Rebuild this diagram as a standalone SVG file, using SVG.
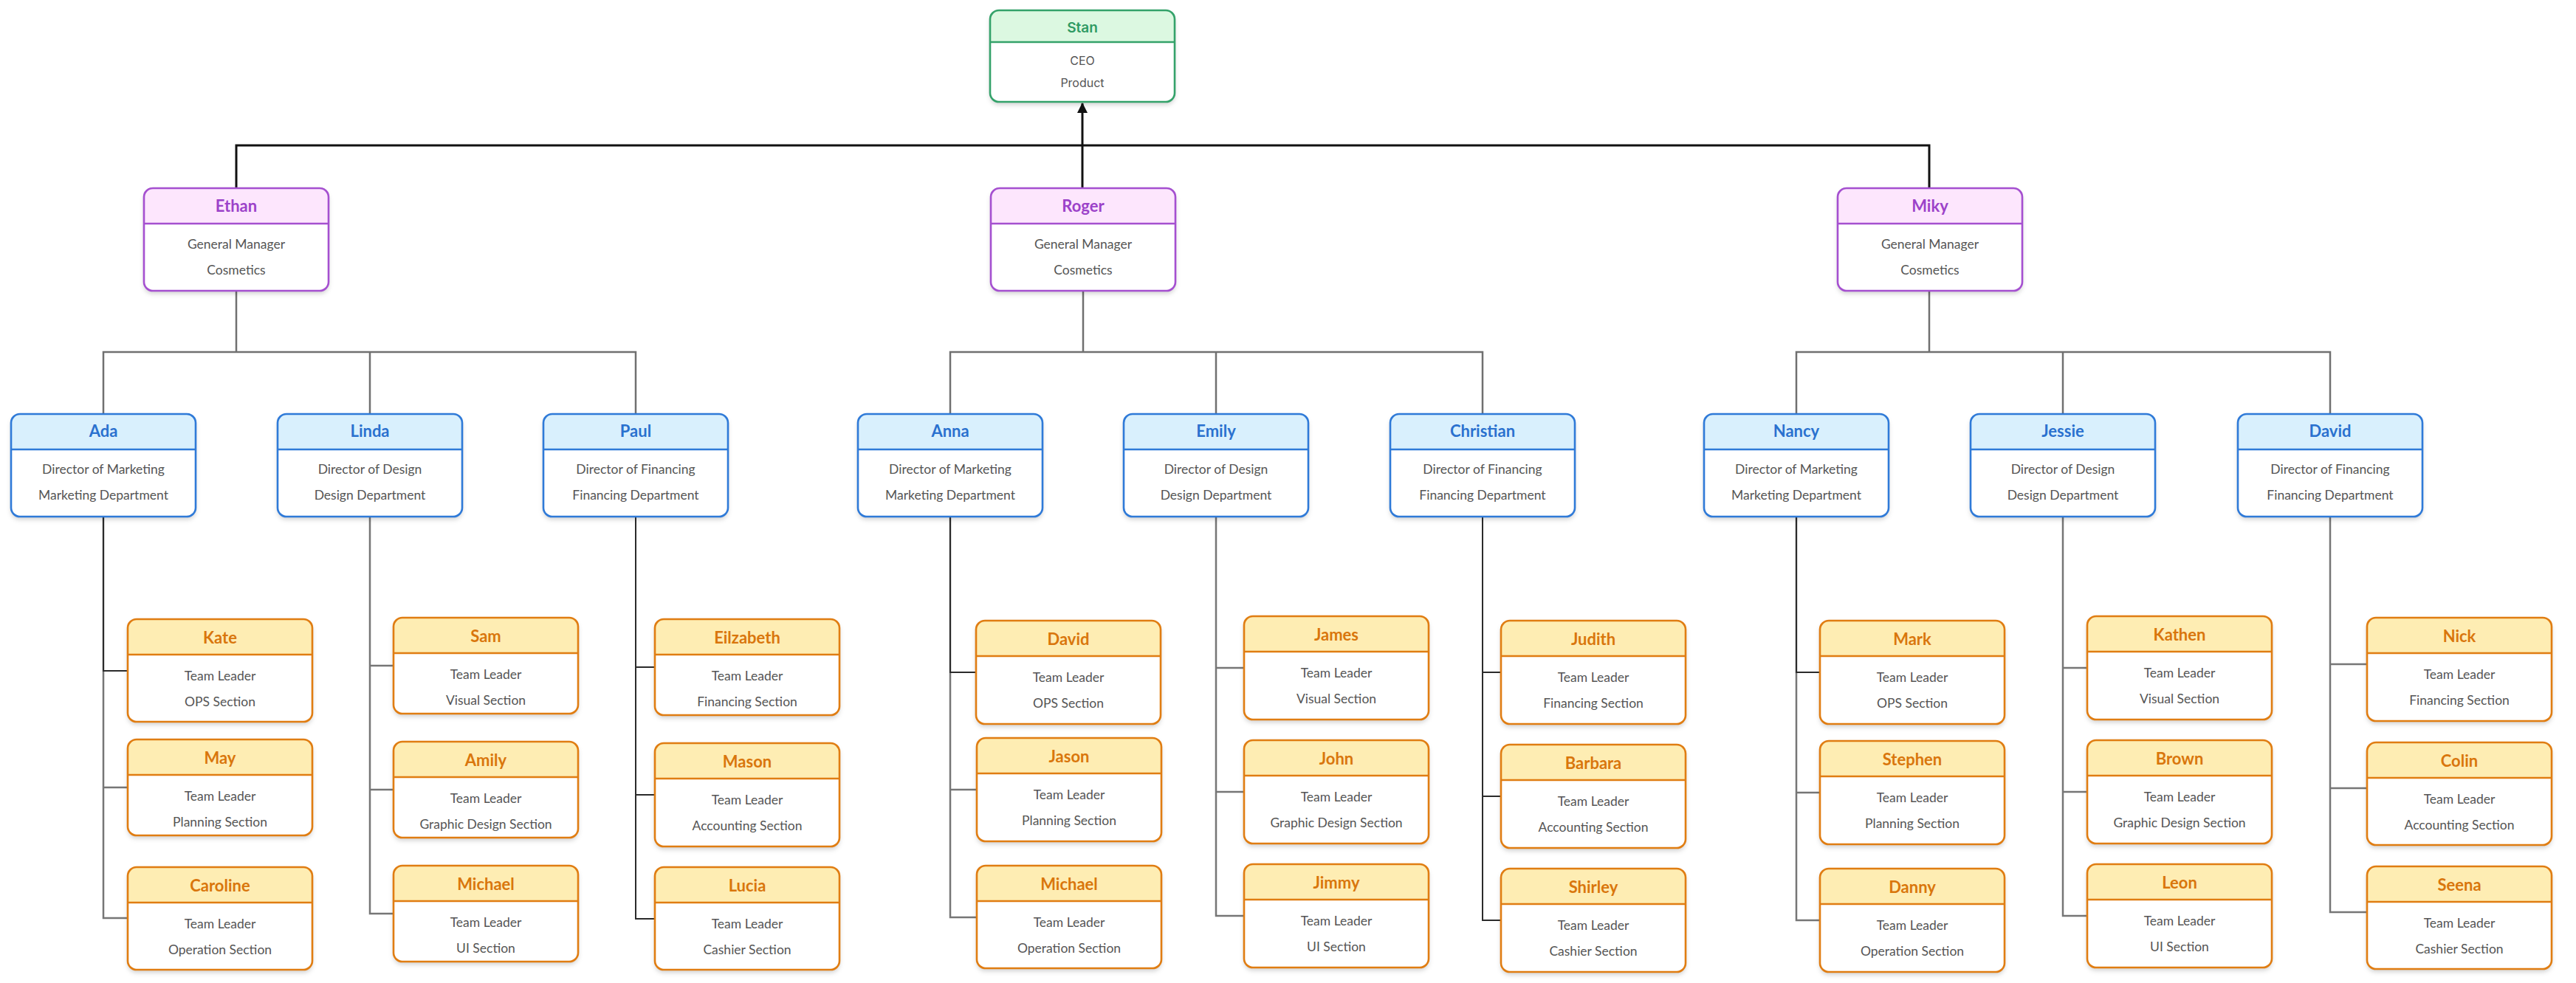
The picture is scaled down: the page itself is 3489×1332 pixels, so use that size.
<svg xmlns="http://www.w3.org/2000/svg" xmlns:xlink="http://www.w3.org/1999/xlink" width="3489" height="1332" viewBox="0 0 3489 1332">
<style>
.bg{fill:#ffffff}
.box{fill:#ffffff;filter:url(#sh)}
.out{fill:none;stroke-width:2.6}
.sep{stroke-width:2.6}
.nm{font-family:Lato,"Liberation Sans",sans-serif;font-weight:700;font-size:22px;text-anchor:middle}
.tx{font-family:Lato,"Liberation Sans",sans-serif;font-size:17.5px;fill:#555555;text-anchor:middle}
.ceo .nm{font-family:Inter,"Liberation Sans",sans-serif;font-weight:600;font-size:19px;fill:#2f9a63}
.ceo .tx{font-family:Inter,"Liberation Sans",sans-serif;font-size:16px;fill:#555555}
.ceo .hd{fill:#dcf8e1}.ceo .out,.ceo .sep{stroke:#34a26a}
.mgr .hd{fill:#fde6fd}.mgr .out,.mgr .sep{stroke:#a550d0}.mgr .nm{fill:#9c42c9}
.dir .hd{fill:#d9f0fd}.dir .out,.dir .sep{stroke:#2f7ad8}.dir .nm{fill:#2a71cf}
.leaf .hd{fill:#feedb3}.leaf .out,.leaf .sep{stroke:#e07d12}.leaf .nm{fill:#d9760c}
.top{fill:none;stroke:#111111;stroke-width:3}
.bus{fill:none;stroke:#707070;stroke-width:2.5}
.dk{fill:none;stroke:#2b2b2b;stroke-width:2}
.gr{fill:none;stroke:#767676;stroke-width:2.5}
</style>
<defs>
<filter id="sh" x="-10%" y="-10%" width="120%" height="130%">
<feDropShadow dx="0" dy="4" stdDeviation="3" flood-color="#000000" flood-opacity="0.18"/>
</filter>
<path id="hdr" d="M0,48 V12 A12,12 0 0 1 12,0 H238 A12,12 0 0 1 250,12 V48 Z"/>
<path id="hdrs" d="M0,43 V12 A12,12 0 0 1 12,0 H238 A12,12 0 0 1 250,12 V43 Z"/>
<marker id="arr" markerWidth="14" markerHeight="14" refX="13" refY="7" orient="auto" markerUnits="userSpaceOnUse">
<path d="M0,0 L14,7 L0,14 Z" fill="#111111"/>
</marker>
</defs>
<rect class="bg" width="3489" height="1332"/>

<g id="connectors">
<path class="top" d="M320,255 V197 H2613 V255"/>
<path class="top" d="M1466,255 V140" marker-end="url(#arr)"/>
<path class="bus" d="M320,394 V477 M140,561 V477 H861 V561 M501,477 V561"/>
<path class="bus" d="M1467,394 V477 M1287,561 V477 H2008 V561 M1647,477 V561"/>
<path class="bus" d="M2613,394 V477 M2433,561 V477 H3156 V561 M2794,477 V561"/>
<path class="gr" d="M140,700 V1067 H173 M140,700 V1244 H173"/>
<path class="dk" d="M140,700 V909 H173"/>
<path class="gr" d="M501,700 V902 H533 M501,700 V1070 H533 M501,700 V1238 H533"/>
<path class="dk" d="M861,700 V904 H887 M861,700 V1077 H887 M861,700 V1245 H887"/>
<path class="gr" d="M1287,700 V1070 H1322 M1287,700 V1243 H1322"/>
<path class="dk" d="M1287,700 V911 H1322"/>
<path class="gr" d="M1647,700 V905 H1685 M1647,700 V1073 H1685 M1647,700 V1241 H1685"/>
<path class="dk" d="M2008,700 V911 H2033 M2008,700 V1079 H2033 M2008,700 V1247 H2033"/>
<path class="gr" d="M2433,700 V1074 H2465 M2433,700 V1247 H2465"/>
<path class="dk" d="M2433,700 V911 H2465"/>
<path class="gr" d="M2794,700 V905 H2827 M2794,700 V1073 H2827 M2794,700 V1241 H2827"/>
<path class="gr" d="M3156,700 V900 H3206 M3156,700 V1068 H3206 M3156,700 V1236 H3206"/>
</g>

<g id="stan" class="ceo" transform="translate(1341,14)">
<rect class="box" width="250" height="124" rx="12"/><use class="hd" href="#hdrs"/><rect class="out" width="250" height="124" rx="12"/><line class="sep" x1="0" y1="43" x2="250" y2="43"/>
<text class="nm" x="125" y="30">Stan</text><text class="tx" x="125" y="74">CEO</text><text class="tx" x="125" y="104">Product</text>
</g>

<g id="ethan" class="mgr" transform="translate(195,255)">
<rect class="box" width="250" height="139" rx="12"/><use class="hd" href="#hdr"/><rect class="out" width="250" height="139" rx="12"/><line class="sep" x1="0" y1="48" x2="250" y2="48"/>
<text class="nm" x="125" y="32">Ethan</text><text class="tx" x="125" y="82">General Manager</text><text class="tx" x="125" y="117">Cosmetics</text>
</g>
<g id="roger" class="mgr" transform="translate(1342,255)">
<rect class="box" width="250" height="139" rx="12"/><use class="hd" href="#hdr"/><rect class="out" width="250" height="139" rx="12"/><line class="sep" x1="0" y1="48" x2="250" y2="48"/>
<text class="nm" x="125" y="32">Roger</text><text class="tx" x="125" y="82">General Manager</text><text class="tx" x="125" y="117">Cosmetics</text>
</g>
<g id="miky" class="mgr" transform="translate(2489,255)">
<rect class="box" width="250" height="139" rx="12"/><use class="hd" href="#hdr"/><rect class="out" width="250" height="139" rx="12"/><line class="sep" x1="0" y1="48" x2="250" y2="48"/>
<text class="nm" x="125" y="32">Miky</text><text class="tx" x="125" y="82">General Manager</text><text class="tx" x="125" y="117">Cosmetics</text>
</g>

<g id="ada" class="dir" transform="translate(15,561)">
<rect class="box" width="250" height="139" rx="12"/><use class="hd" href="#hdr"/><rect class="out" width="250" height="139" rx="12"/><line class="sep" x1="0" y1="48" x2="250" y2="48"/>
<text class="nm" x="125" y="31">Ada</text><text class="tx" x="125" y="81">Director of Marketing</text><text class="tx" x="125" y="116">Marketing Department</text>
</g>
<g id="linda" class="dir" transform="translate(376,561)">
<rect class="box" width="250" height="139" rx="12"/><use class="hd" href="#hdr"/><rect class="out" width="250" height="139" rx="12"/><line class="sep" x1="0" y1="48" x2="250" y2="48"/>
<text class="nm" x="125" y="31">Linda</text><text class="tx" x="125" y="81">Director of Design</text><text class="tx" x="125" y="116">Design Department</text>
</g>
<g id="paul" class="dir" transform="translate(736,561)">
<rect class="box" width="250" height="139" rx="12"/><use class="hd" href="#hdr"/><rect class="out" width="250" height="139" rx="12"/><line class="sep" x1="0" y1="48" x2="250" y2="48"/>
<text class="nm" x="125" y="31">Paul</text><text class="tx" x="125" y="81">Director of Financing</text><text class="tx" x="125" y="116">Financing Department</text>
</g>
<g id="anna" class="dir" transform="translate(1162,561)">
<rect class="box" width="250" height="139" rx="12"/><use class="hd" href="#hdr"/><rect class="out" width="250" height="139" rx="12"/><line class="sep" x1="0" y1="48" x2="250" y2="48"/>
<text class="nm" x="125" y="31">Anna</text><text class="tx" x="125" y="81">Director of Marketing</text><text class="tx" x="125" y="116">Marketing Department</text>
</g>
<g id="emily" class="dir" transform="translate(1522,561)">
<rect class="box" width="250" height="139" rx="12"/><use class="hd" href="#hdr"/><rect class="out" width="250" height="139" rx="12"/><line class="sep" x1="0" y1="48" x2="250" y2="48"/>
<text class="nm" x="125" y="31">Emily</text><text class="tx" x="125" y="81">Director of Design</text><text class="tx" x="125" y="116">Design Department</text>
</g>
<g id="christian" class="dir" transform="translate(1883,561)">
<rect class="box" width="250" height="139" rx="12"/><use class="hd" href="#hdr"/><rect class="out" width="250" height="139" rx="12"/><line class="sep" x1="0" y1="48" x2="250" y2="48"/>
<text class="nm" x="125" y="31">Christian</text><text class="tx" x="125" y="81">Director of Financing</text><text class="tx" x="125" y="116">Financing Department</text>
</g>
<g id="nancy" class="dir" transform="translate(2308,561)">
<rect class="box" width="250" height="139" rx="12"/><use class="hd" href="#hdr"/><rect class="out" width="250" height="139" rx="12"/><line class="sep" x1="0" y1="48" x2="250" y2="48"/>
<text class="nm" x="125" y="31">Nancy</text><text class="tx" x="125" y="81">Director of Marketing</text><text class="tx" x="125" y="116">Marketing Department</text>
</g>
<g id="jessie" class="dir" transform="translate(2669,561)">
<rect class="box" width="250" height="139" rx="12"/><use class="hd" href="#hdr"/><rect class="out" width="250" height="139" rx="12"/><line class="sep" x1="0" y1="48" x2="250" y2="48"/>
<text class="nm" x="125" y="31">Jessie</text><text class="tx" x="125" y="81">Director of Design</text><text class="tx" x="125" y="116">Design Department</text>
</g>
<g id="david-dir" class="dir" transform="translate(3031,561)">
<rect class="box" width="250" height="139" rx="12"/><use class="hd" href="#hdr"/><rect class="out" width="250" height="139" rx="12"/><line class="sep" x1="0" y1="48" x2="250" y2="48"/>
<text class="nm" x="125" y="31">David</text><text class="tx" x="125" y="81">Director of Financing</text><text class="tx" x="125" y="116">Financing Department</text>
</g>

<g id="kate" class="leaf" transform="translate(173,839)">
<rect class="box" width="250" height="139" rx="12"/><use class="hd" href="#hdr"/><rect class="out" width="250" height="139" rx="12"/><line class="sep" x1="0" y1="48" x2="250" y2="48"/>
<text class="nm" x="125" y="33">Kate</text><text class="tx" x="125" y="83">Team Leader</text><text class="tx" x="125" y="118">OPS Section</text>
</g>
<g id="may" class="leaf" transform="translate(173,1002)">
<rect class="box" width="250" height="130" rx="12"/><use class="hd" href="#hdr"/><rect class="out" width="250" height="130" rx="12"/><line class="sep" x1="0" y1="48" x2="250" y2="48"/>
<text class="nm" x="125" y="33">May</text><text class="tx" x="125" y="83">Team Leader</text><text class="tx" x="125" y="118">Planning Section</text>
</g>
<g id="caroline" class="leaf" transform="translate(173,1175)">
<rect class="box" width="250" height="139" rx="12"/><use class="hd" href="#hdr"/><rect class="out" width="250" height="139" rx="12"/><line class="sep" x1="0" y1="48" x2="250" y2="48"/>
<text class="nm" x="125" y="33">Caroline</text><text class="tx" x="125" y="83">Team Leader</text><text class="tx" x="125" y="118">Operation Section</text>
</g>

<g id="sam" class="leaf" transform="translate(533,837)">
<rect class="box" width="250" height="130" rx="12"/><use class="hd" href="#hdr"/><rect class="out" width="250" height="130" rx="12"/><line class="sep" x1="0" y1="48" x2="250" y2="48"/>
<text class="nm" x="125" y="33">Sam</text><text class="tx" x="125" y="83">Team Leader</text><text class="tx" x="125" y="118">Visual Section</text>
</g>
<g id="amily" class="leaf" transform="translate(533,1005)">
<rect class="box" width="250" height="130" rx="12"/><use class="hd" href="#hdr"/><rect class="out" width="250" height="130" rx="12"/><line class="sep" x1="0" y1="48" x2="250" y2="48"/>
<text class="nm" x="125" y="33">Amily</text><text class="tx" x="125" y="83">Team Leader</text><text class="tx" x="125" y="118">Graphic Design Section</text>
</g>
<g id="michael-1" class="leaf" transform="translate(533,1173)">
<rect class="box" width="250" height="130" rx="12"/><use class="hd" href="#hdr"/><rect class="out" width="250" height="130" rx="12"/><line class="sep" x1="0" y1="48" x2="250" y2="48"/>
<text class="nm" x="125" y="33">Michael</text><text class="tx" x="125" y="83">Team Leader</text><text class="tx" x="125" y="118">UI Section</text>
</g>

<g id="eilzabeth" class="leaf" transform="translate(887,839)">
<rect class="box" width="250" height="130" rx="12"/><use class="hd" href="#hdr"/><rect class="out" width="250" height="130" rx="12"/><line class="sep" x1="0" y1="48" x2="250" y2="48"/>
<text class="nm" x="125" y="33">Eilzabeth</text><text class="tx" x="125" y="83">Team Leader</text><text class="tx" x="125" y="118">Financing Section</text>
</g>
<g id="mason" class="leaf" transform="translate(887,1007)">
<rect class="box" width="250" height="140" rx="12"/><use class="hd" href="#hdr"/><rect class="out" width="250" height="140" rx="12"/><line class="sep" x1="0" y1="48" x2="250" y2="48"/>
<text class="nm" x="125" y="33">Mason</text><text class="tx" x="125" y="83">Team Leader</text><text class="tx" x="125" y="118">Accounting Section</text>
</g>
<g id="lucia" class="leaf" transform="translate(887,1175)">
<rect class="box" width="250" height="139" rx="12"/><use class="hd" href="#hdr"/><rect class="out" width="250" height="139" rx="12"/><line class="sep" x1="0" y1="48" x2="250" y2="48"/>
<text class="nm" x="125" y="33">Lucia</text><text class="tx" x="125" y="83">Team Leader</text><text class="tx" x="125" y="118">Cashier Section</text>
</g>

<g id="david" class="leaf" transform="translate(1322,841)">
<rect class="box" width="250" height="140" rx="12"/><use class="hd" href="#hdr"/><rect class="out" width="250" height="140" rx="12"/><line class="sep" x1="0" y1="48" x2="250" y2="48"/>
<text class="nm" x="125" y="33">David</text><text class="tx" x="125" y="83">Team Leader</text><text class="tx" x="125" y="118">OPS Section</text>
</g>
<g id="jason" class="leaf" transform="translate(1323,1000)">
<rect class="box" width="250" height="140" rx="12"/><use class="hd" href="#hdr"/><rect class="out" width="250" height="140" rx="12"/><line class="sep" x1="0" y1="48" x2="250" y2="48"/>
<text class="nm" x="125" y="33">Jason</text><text class="tx" x="125" y="83">Team Leader</text><text class="tx" x="125" y="118">Planning Section</text>
</g>
<g id="michael-2" class="leaf" transform="translate(1323,1173)">
<rect class="box" width="250" height="139" rx="12"/><use class="hd" href="#hdr"/><rect class="out" width="250" height="139" rx="12"/><line class="sep" x1="0" y1="48" x2="250" y2="48"/>
<text class="nm" x="125" y="33">Michael</text><text class="tx" x="125" y="83">Team Leader</text><text class="tx" x="125" y="118">Operation Section</text>
</g>

<g id="james" class="leaf" transform="translate(1685,835)">
<rect class="box" width="250" height="140" rx="12"/><use class="hd" href="#hdr"/><rect class="out" width="250" height="140" rx="12"/><line class="sep" x1="0" y1="48" x2="250" y2="48"/>
<text class="nm" x="125" y="33">James</text><text class="tx" x="125" y="83">Team Leader</text><text class="tx" x="125" y="118">Visual Section</text>
</g>
<g id="john" class="leaf" transform="translate(1685,1003)">
<rect class="box" width="250" height="140" rx="12"/><use class="hd" href="#hdr"/><rect class="out" width="250" height="140" rx="12"/><line class="sep" x1="0" y1="48" x2="250" y2="48"/>
<text class="nm" x="125" y="33">John</text><text class="tx" x="125" y="83">Team Leader</text><text class="tx" x="125" y="118">Graphic Design Section</text>
</g>
<g id="jimmy" class="leaf" transform="translate(1685,1171)">
<rect class="box" width="250" height="140" rx="12"/><use class="hd" href="#hdr"/><rect class="out" width="250" height="140" rx="12"/><line class="sep" x1="0" y1="48" x2="250" y2="48"/>
<text class="nm" x="125" y="33">Jimmy</text><text class="tx" x="125" y="83">Team Leader</text><text class="tx" x="125" y="118">UI Section</text>
</g>

<g id="judith" class="leaf" transform="translate(2033,841)">
<rect class="box" width="250" height="140" rx="12"/><use class="hd" href="#hdr"/><rect class="out" width="250" height="140" rx="12"/><line class="sep" x1="0" y1="48" x2="250" y2="48"/>
<text class="nm" x="125" y="33">Judith</text><text class="tx" x="125" y="83">Team Leader</text><text class="tx" x="125" y="118">Financing Section</text>
</g>
<g id="barbara" class="leaf" transform="translate(2033,1009)">
<rect class="box" width="250" height="140" rx="12"/><use class="hd" href="#hdr"/><rect class="out" width="250" height="140" rx="12"/><line class="sep" x1="0" y1="48" x2="250" y2="48"/>
<text class="nm" x="125" y="33">Barbara</text><text class="tx" x="125" y="83">Team Leader</text><text class="tx" x="125" y="118">Accounting Section</text>
</g>
<g id="shirley" class="leaf" transform="translate(2033,1177)">
<rect class="box" width="250" height="140" rx="12"/><use class="hd" href="#hdr"/><rect class="out" width="250" height="140" rx="12"/><line class="sep" x1="0" y1="48" x2="250" y2="48"/>
<text class="nm" x="125" y="33">Shirley</text><text class="tx" x="125" y="83">Team Leader</text><text class="tx" x="125" y="118">Cashier Section</text>
</g>

<g id="mark" class="leaf" transform="translate(2465,841)">
<rect class="box" width="250" height="140" rx="12"/><use class="hd" href="#hdr"/><rect class="out" width="250" height="140" rx="12"/><line class="sep" x1="0" y1="48" x2="250" y2="48"/>
<text class="nm" x="125" y="33">Mark</text><text class="tx" x="125" y="83">Team Leader</text><text class="tx" x="125" y="118">OPS Section</text>
</g>
<g id="stephen" class="leaf" transform="translate(2465,1004)">
<rect class="box" width="250" height="140" rx="12"/><use class="hd" href="#hdr"/><rect class="out" width="250" height="140" rx="12"/><line class="sep" x1="0" y1="48" x2="250" y2="48"/>
<text class="nm" x="125" y="33">Stephen</text><text class="tx" x="125" y="83">Team Leader</text><text class="tx" x="125" y="118">Planning Section</text>
</g>
<g id="danny" class="leaf" transform="translate(2465,1177)">
<rect class="box" width="250" height="140" rx="12"/><use class="hd" href="#hdr"/><rect class="out" width="250" height="140" rx="12"/><line class="sep" x1="0" y1="48" x2="250" y2="48"/>
<text class="nm" x="125" y="33">Danny</text><text class="tx" x="125" y="83">Team Leader</text><text class="tx" x="125" y="118">Operation Section</text>
</g>

<g id="kathen" class="leaf" transform="translate(2827,835)">
<rect class="box" width="250" height="140" rx="12"/><use class="hd" href="#hdr"/><rect class="out" width="250" height="140" rx="12"/><line class="sep" x1="0" y1="48" x2="250" y2="48"/>
<text class="nm" x="125" y="33">Kathen</text><text class="tx" x="125" y="83">Team Leader</text><text class="tx" x="125" y="118">Visual Section</text>
</g>
<g id="brown" class="leaf" transform="translate(2827,1003)">
<rect class="box" width="250" height="140" rx="12"/><use class="hd" href="#hdr"/><rect class="out" width="250" height="140" rx="12"/><line class="sep" x1="0" y1="48" x2="250" y2="48"/>
<text class="nm" x="125" y="33">Brown</text><text class="tx" x="125" y="83">Team Leader</text><text class="tx" x="125" y="118">Graphic Design Section</text>
</g>
<g id="leon" class="leaf" transform="translate(2827,1171)">
<rect class="box" width="250" height="140" rx="12"/><use class="hd" href="#hdr"/><rect class="out" width="250" height="140" rx="12"/><line class="sep" x1="0" y1="48" x2="250" y2="48"/>
<text class="nm" x="125" y="33">Leon</text><text class="tx" x="125" y="83">Team Leader</text><text class="tx" x="125" y="118">UI Section</text>
</g>

<g id="nick" class="leaf" transform="translate(3206,837)">
<rect class="box" width="250" height="140" rx="12"/><use class="hd" href="#hdr"/><rect class="out" width="250" height="140" rx="12"/><line class="sep" x1="0" y1="48" x2="250" y2="48"/>
<text class="nm" x="125" y="33">Nick</text><text class="tx" x="125" y="83">Team Leader</text><text class="tx" x="125" y="118">Financing Section</text>
</g>
<g id="colin" class="leaf" transform="translate(3206,1006)">
<rect class="box" width="250" height="139" rx="12"/><use class="hd" href="#hdr"/><rect class="out" width="250" height="139" rx="12"/><line class="sep" x1="0" y1="48" x2="250" y2="48"/>
<text class="nm" x="125" y="33">Colin</text><text class="tx" x="125" y="83">Team Leader</text><text class="tx" x="125" y="118">Accounting Section</text>
</g>
<g id="seena" class="leaf" transform="translate(3206,1174)">
<rect class="box" width="250" height="139" rx="12"/><use class="hd" href="#hdr"/><rect class="out" width="250" height="139" rx="12"/><line class="sep" x1="0" y1="48" x2="250" y2="48"/>
<text class="nm" x="125" y="33">Seena</text><text class="tx" x="125" y="83">Team Leader</text><text class="tx" x="125" y="118">Cashier Section</text>
</g>
</svg>
